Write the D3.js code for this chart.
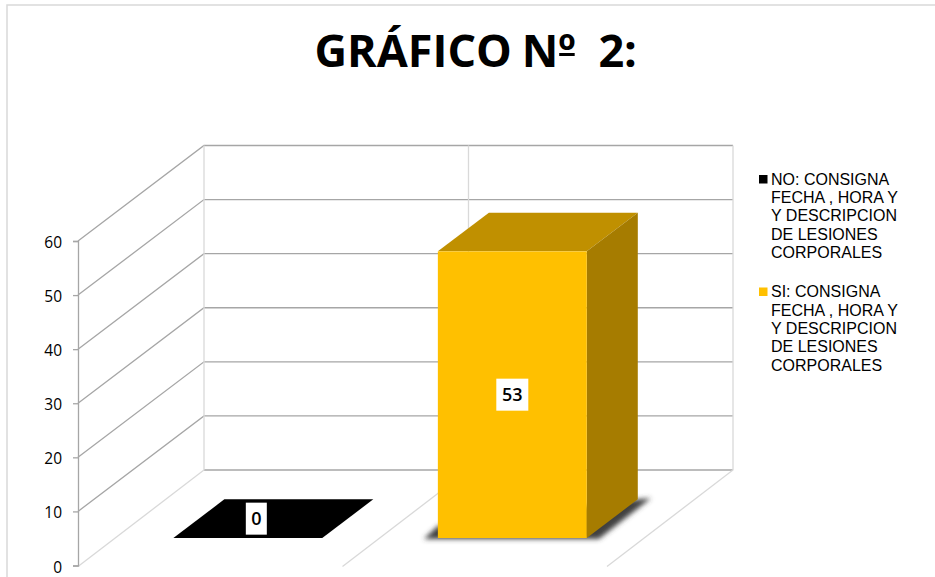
<!DOCTYPE html>
<html>
<head>
<meta charset="utf-8">
<script src="https://cdnjs.cloudflare.com/ajax/libs/d3/7.8.5/d3.min.js"></script>
<style>
html,body{margin:0;padding:0;background:#fff;overflow:hidden}
svg{display:block}
</style>
</head>
<body>
<svg id="chart" width="935" height="577"></svg>
<script>
// chart values
var categories = ["NO", "SI"];
var values = [0, 53];
var barColors = ["#000000", "#ffc000"];
var topColors = ["#000000", "#c09000"];
var sideColors = ["#000000", "#a67c00"];
var yTicks = [0, 10, 20, 30, 40, 50, 60];
var titleParts = ["GRÁFICO ", "Nº ", "2:"];
var legendLines = [
	["NO: CONSIGNA", "FECHA , HORA Y", "Y DESCRIPCION", "DE LESIONES", "CORPORALES"],
	["SI: CONSIGNA", "FECHA , HORA Y", "Y DESCRIPCION", "DE LESIONES", "CORPORALES"]
];

var svg = d3.select("#chart");

// outer frame, runs off the right and bottom of the picture
svg.append("path")
	.attr("d", "M7,577V5H935")
	.style("fill", "none").style("stroke", "#d9d9d9").style("stroke-width", 1.5);

var title = svg.append("text")
	.attr("x", 314.5).attr("y", 66.5)
	.style("font-family", "'Open Sans'")
	.style("font-weight", 700)
	.style("font-size", "45px")
	.style("fill", "#000");
var titleDx = [0, -2, 11];
title.selectAll("tspan").data(titleParts).enter().append("tspan")
	.attr("dx", function(d, i){ return titleDx[i]; })
	.text(function(d){ return d; });

// the ordinal sign has a bar under it in the original font
var ordIdx = titleParts.join("").indexOf("º");
var ordBox = title.node().getExtentOfChar(ordIdx);
svg.append("line")
	.attr("x1", ordBox.x + 1).attr("x2", ordBox.x + ordBox.width - 1)
	.attr("y1", 54.5).attr("y2", 54.5)
	.style("stroke", "#000").style("stroke-width", 3);

// 3d frame: front plane starts at x0, depth is the vector dx,dy
var x0 = 78, depthX = 126, depthY = -95.5, plotW = 529;
var yScale = d3.scaleLinear().domain([0, 60]).range([565.5, 241]);
var xScale = d3.scaleBand().domain(categories).range([0, plotW])
	.paddingInner(0.437).paddingOuter(0.2185).align(0.511);

var grid = svg.append("g").attr("class", "grid");

// side wall and back wall gridlines
grid.selectAll(".wall").data(yTicks.slice(1)).enter().append("path")
	.attr("class", "wall")
	.attr("d", function(d){
		var y = yScale(d);
		return d3.line()([[x0, y], [x0 + depthX, y + depthY], [x0 + depthX + plotW, y + depthY]]);
	})
	.style("fill", "none").style("stroke", "#a6a6a6").style("stroke-width", 1.3);

// floor back edge
grid.append("line")
	.attr("x1", x0 + depthX).attr("x2", x0 + depthX + plotW)
	.attr("y1", yScale(0) + depthY).attr("y2", yScale(0) + depthY)
	.style("stroke", "#a6a6a6").style("stroke-width", 1.3);

// category lines on the back wall and floor
var catEdges = [0, xScale.step(), plotW];
grid.selectAll(".cat").data(catEdges).enter().append("path")
	.attr("class", "cat")
	.attr("d", function(d){
		var bx = x0 + d + depthX, by = yScale(0) + depthY;
		return d3.line()([[bx - depthX, by - depthY + 1], [bx, by], [bx, yScale(60) + depthY]]);
	})
	.style("fill", "none").style("stroke", "#d9d9d9").style("stroke-width", 1.3);

// y axis
var yAxis = svg.append("g")
	.attr("transform", "translate(" + x0 + ",0)")
	.call(d3.axisLeft(yScale).tickValues(yTicks).tickSize(5).tickPadding(11));
yAxis.selectAll("path,line").style("stroke", "#a6a6a6").style("stroke-width", 1.3);
yAxis.selectAll("text")
	.attr("dy", "0.42em")
	.style("font-family", "'Open Sans'")
	.style("font-size", "15.5px")
	.style("fill", "#000");

// blurred floor shadow of the bars
var defs = svg.append("defs");
defs.append("filter").attr("id", "soft")
	.attr("x", "-20%").attr("y", "-20%").attr("width", "140%").attr("height", "140%")
	.append("feGaussianBlur").attr("stdDeviation", 2.6);

// bars sit this far into the depth, and are this deep
var barStart = 0.288, barDepth = 0.405;

var bars = svg.selectAll(".bar").data(categories).enter().append("g").attr("class", "bar");

bars.each(function(c, i){
	var g = d3.select(this);
	var v = values[i];
	var xl = x0 + xScale(c) + depthX * barStart;
	var xr = xl + xScale.bandwidth();
	var yb = yScale(0) + depthY * barStart;
	var yt = yb - (yScale(0) - yScale(v));
	var dx = depthX * barDepth, dy = depthY * barDepth;
	var poly = d3.line();

	if (v > 0) {
		g.append("path")
			.attr("d", poly([[xl, yb - 12], [xl - 14, yb + 1], [xr + 12, yb + 1], [xr + dx + 13, yb + dy - 1], [xr + dx, yb + dy]]) + "Z")
			.attr("filter", "url(#soft)")
			.style("fill", "#404040");
	}
	// top face
	g.append("path")
		.attr("d", poly([[xl, yt], [xr, yt], [xr + dx, yt + dy], [xl + dx, yt + dy]]) + "Z")
		.style("fill", topColors[i]);
	if (v > 0) {
		// side and front faces
		g.append("path")
			.attr("d", poly([[xr, yt], [xr + dx, yt + dy], [xr + dx, yb + dy], [xr, yb]]) + "Z")
			.style("fill", sideColors[i]);
		g.append("rect")
			.attr("x", xl).attr("y", yt)
			.attr("width", xr - xl).attr("height", yb - yt)
			.style("fill", barColors[i]);
	}

	// value label on a white box
	var lx = xl + (xr - xl) / 2 + (v > 0 ? 0 : dx / 6);
	var ly = v > 0 ? yScale(v / 2) + depthY * barStart : yb + dy / 2;
	var label = g.append("g").attr("transform", "translate(" + lx + "," + ly + ")");
	var bw = String(v).length > 1 ? 32 : 21;
	label.append("rect")
		.attr("x", -bw / 2).attr("y", -16)
		.attr("width", bw).attr("height", 32)
		.style("fill", "#fff");
	label.append("text")
		.attr("text-anchor", "middle").attr("dy", "0.36em")
		.style("font-family", "'Open Sans'")
		.style("font-weight", 600)
		.style("font-size", "18px")
		.style("fill", "#000")
		.text(v);
});

// legend
var legendTop = [179, 291.5];
var legend = svg.selectAll(".legend").data(categories).enter().append("g")
	.attr("class", "legend")
	.attr("transform", function(d, i){ return "translate(771," + legendTop[i] + ")"; });

legend.append("rect")
	.attr("x", -12).attr("y", -4)
	.attr("width", 8.5).attr("height", 8.5)
	.style("fill", function(d, i){ return barColors[i]; });

legend.selectAll("text").data(function(d, i){ return legendLines[i]; }).enter().append("text")
	.attr("x", 0)
	.attr("y", function(d, i){ return i * 18.4; })
	.attr("dy", "0.35em")
	.style("font-family", "'Liberation Sans'")
	.style("font-size", "16px")
	.style("fill", "#000")
	.text(function(d){ return d; });
</script>
</body>
</html>
